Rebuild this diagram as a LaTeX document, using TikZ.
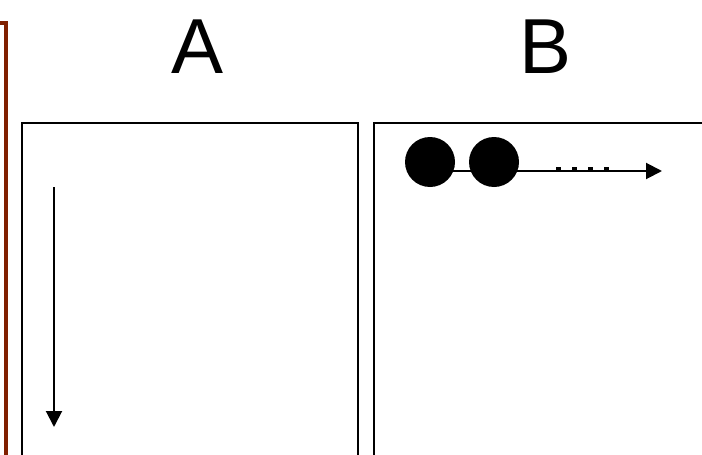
\documentclass[tikz,border=0pt]{standalone}
\usepackage{fontspec}
\setmainfont{Liberation Sans}
\usetikzlibrary{arrows.meta}
\definecolor{brownline}{RGB}{128,32,0}
\tikzset{
  panel/.style={draw=black, line width=2pt},
  arr/.style={line width=2pt, -{Triangle[length=16pt,width=16pt]}},
  ball/.style={circle, fill=black, minimum size=50pt, inner sep=0pt},
  lbl/.style={font=\fontsize{78}{80}\selectfont, inner sep=0pt, anchor=base},
  dotmark/.style={fill=black, minimum width=5pt, minimum height=4pt, inner sep=0pt}
}
\begin{document}
\begin{tikzpicture}[x=1pt,y=-1pt]
\useasboundingbox (0,0) rectangle (702,455);
% brown bracket
\draw[brownline, line width=4pt] (-5,23) -- (6,23) -- (6,460);
% panels
\draw[panel] (22,470) -- (22,123) -- (358,123) -- (358,470);
\draw[panel] (374,470) -- (374,123) -- (710,123);
% labels
\node[lbl] (la) at (198,73) {A};
\node[lbl] (lb) at (546,73) {B};
% arrow in A
\coordinate (a1) at (54,187);
\coordinate (a2) at (54,427);
\draw[arr] (a1) -- (a2);
% B contents
\coordinate (b1) at (430,171);
\coordinate (b2) at (662,171);
\draw[arr] (b1) -- (b2);
\node[ball] (c1) at (430,162) {};
\node[ball] (c2) at (494,162) {};
\foreach \i/\xx in {1/558,2/574,3/590,4/606}{
  \node[dotmark] (d\i) at (\xx,169) {};
}
\end{tikzpicture}
\end{document}
